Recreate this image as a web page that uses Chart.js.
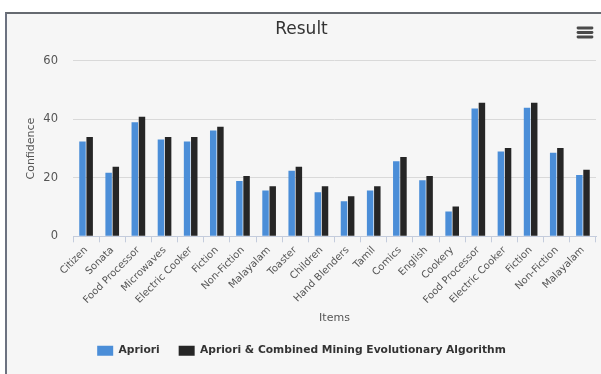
<!DOCTYPE html>
<html>
<head>
<meta charset="utf-8">
<script src="https://cdn.jsdelivr.net/npm/chart.js@4/dist/chart.umd.min.js"></script>
<style>
  html, body { margin: 0; padding: 0; background: #ffffff; width: 601px; height: 374px; overflow: hidden; position: relative; }
  #card {
    position: absolute; left: 5px; top: 12px; width: 610px; height: 370px;
    background: #f6f6f6;
    border-top: 2px solid #666a70;
    border-left: 2px solid #6c7280;
    box-sizing: border-box;
    overflow: hidden;
  }
  canvas { display: block; }
</style>
</head>
<body>
<div id="card"><canvas id="chart" width="600" height="360"></canvas></div>
<script>
// Item categories along the x axis
const categories = [
  'Citizen', 'Sonata', 'Food Processor', 'Microwaves', 'Electric Cooker',
  'Fiction', 'Non-Fiction', 'Malayalam', 'Toaster', 'Children',
  'Hand Blenders', 'Tamil', 'Comics', 'English', 'Cookery',
  'Food Processor', 'Electric Cooker', 'Fiction', 'Non-Fiction', 'Malayalam'
];

// Confidence values per item
const aprioriValues = [
  32.4, 21.7, 39.0, 33.1, 32.4, 36.2, 18.9, 15.7, 22.4, 15.1,
  12.0, 15.7, 25.7, 19.2, 8.5, 43.7, 29.0, 44.0, 28.6, 21.0
];
const combinedValues = [
  34.0, 23.8, 40.9, 34.0, 34.0, 37.5, 20.6, 17.1, 23.8, 17.1,
  13.7, 17.1, 27.1, 20.6, 10.2, 45.7, 30.2, 45.7, 30.2, 22.8
];

const seriesNames = ['Apriori', 'Apriori & Combined Mining Evolutionary Algorithm'];
const yTicks = [0, 20, 40, 60];

const FONT = "'DejaVu Sans', Verdana, sans-serif";

// Small menu icon in the top-right corner
const menuIcon = {
  id: 'menuIcon',
  afterDraw(chart) {
    const ctx = chart.ctx;
    ctx.save();
    ctx.strokeStyle = '#4a4a4a';
    ctx.lineWidth = 2.8;
    ctx.lineCap = 'round';
    [14, 18.5, 23].forEach(y => {
      ctx.beginPath();
      ctx.moveTo(571, y);
      ctx.lineTo(585, y);
      ctx.stroke();
    });
    ctx.restore();
  }
};

new Chart(document.getElementById('chart'), {
  type: 'bar',
  data: {
    labels: categories,
    datasets: [
      {
        label: seriesNames[0],
        data: aprioriValues,
        backgroundColor: '#4b8ed8',
        borderWidth: 0,
        categoryPercentage: 0.55,
        barPercentage: 0.9
      },
      {
        label: seriesNames[1],
        data: combinedValues,
        backgroundColor: '#262626',
        borderWidth: 0,
        categoryPercentage: 0.55,
        barPercentage: 0.9
      }
    ]
  },
  options: {
    responsive: false,
    devicePixelRatio: 1,
    animation: false,
    layout: { padding: { left: 0, right: 11, top: 0, bottom: 8 } },
    plugins: {
      title: {
        display: true,
        text: 'Result',
        color: '#333333',
        font: { family: FONT, size: 17, weight: 'normal' },
        padding: { top: 5.5, bottom: 21 }
      },
      legend: {
        position: 'bottom',
        labels: {
          color: '#333333',
          font: { family: FONT, size: 10.7, weight: 'bold' },
          boxWidth: 16,
          boxHeight: 10,
          padding: 19
        }
      },
      tooltip: { enabled: false }
    },
    scales: {
      x: {
        afterFit(scale) { scale.height = 90; },
        grid: {
          display: true,
          drawOnChartArea: false,
          drawTicks: true,
          tickLength: 6,
          offset: true,
          color: '#c4ccdc'
        },
        border: { display: true, color: '#c4ccdc' },
        ticks: {
          autoSkip: false,
          maxRotation: 45,
          minRotation: 45,
          padding: 2,
          color: '#555555',
          font: { family: FONT, size: 10 }
        },
        title: {
          display: true,
          text: 'Items',
          color: '#555555',
          font: { family: FONT, size: 11 },
          padding: { top: 0, bottom: 2 }
        }
      },
      y: {
        min: 0,
        max: 60,
        afterFit(scale) { scale.width = 66; },
        afterBuildTicks(scale) { scale.ticks = yTicks.map(v => ({ value: v })); },
        grid: { color: '#d9d9d9', drawTicks: false },
        border: { display: false },
        ticks: {
          padding: 15,
          color: '#555555',
          font: { family: FONT, size: 11.5 }
        },
        title: {
          display: true,
          text: 'Confidence',
          color: '#555555',
          font: { family: FONT, size: 11 },
          padding: { top: 18, bottom: 0 }
        }
      }
    }
  },
  plugins: [menuIcon]
});
</script>
</body>
</html>
